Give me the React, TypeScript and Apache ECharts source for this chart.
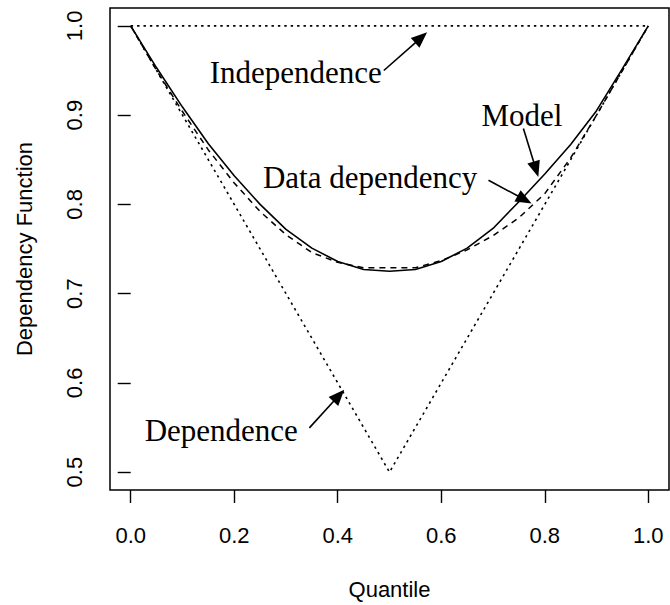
import React, { useEffect, useRef } from "react";
import * as echarts from "echarts";

// ---- data ----
const quantiles = [0, 0.05, 0.1, 0.15, 0.2, 0.25, 0.3, 0.35, 0.4, 0.45, 0.5, 0.55, 0.6, 0.65, 0.7, 0.75, 0.8, 0.85, 0.9, 0.95, 1.0];
const modelDependency = [1.0, 0.953, 0.909, 0.868, 0.832, 0.8, 0.772, 0.751, 0.736, 0.727, 0.725, 0.727, 0.736, 0.751, 0.773, 0.803, 0.834, 0.867, 0.905, 0.952, 1.0];
const dataDependency = [1.0, 0.95, 0.904, 0.861, 0.824, 0.792, 0.766, 0.746, 0.735, 0.729, 0.729, 0.729, 0.737, 0.749, 0.765, 0.785, 0.812, 0.852, 0.9, 0.95, 1.0];
const independenceX = [0, 1];
const independenceY = [1, 1];
const dependenceX = [0, 0.5, 1];
const dependenceY = [1, 0.5, 1];
const xTicks = [0, 0.2, 0.4, 0.6, 0.8, 1.0];
const yTicks = [0.5, 0.6, 0.7, 0.8, 0.9, 1.0];

// annotation texts and arrows (in data coordinates)
const annotationTexts = ["Independence", "Model", "Data dependency", "Dependence"];
const annotationAt = [[0.319, 0.948], [0.7558, 0.8997], [0.4625, 0.8304], [0.175, 0.5466]];
const arrowFrom = [[0.489, 0.95], [0.7587, 0.8849], [0.6913, 0.8271], [0.3452, 0.5496]];
const arrowTo = [[0.5727, 0.9928], [0.7875, 0.8308], [0.7746, 0.801], [0.4125, 0.5924]];

const pairs = (xs: number[], ys: number[]) => xs.map((x, i) => [x, ys[i]]);

export default function App() {
  const ref = useRef<HTMLDivElement>(null);
  useEffect(() => {
    if (!ref.current) return;
    const chart = echarts.init(ref.current, null, { renderer: "svg" });
    const sans = "Liberation Sans, Arial, Helvetica, sans-serif";
    const fmt = (v: number) => v.toFixed(1);
    chart.setOption({
      animation: false,
      backgroundColor: "#fff",
      grid: {
        left: 110, top: 8, right: 1, bottom: 115,
        show: true, borderColor: "#000", borderWidth: 1.5, backgroundColor: "transparent",
      },
      xAxis: {
        type: "value", min: -0.04, max: 1.04,
        name: "Quantile", nameLocation: "middle", nameGap: 88,
        nameTextStyle: { fontFamily: sans, fontSize: 22, color: "#000" },
        axisLine: { show: false },
        axisTick: { show: true, length: 13, customValues: xTicks, lineStyle: { color: "#000", width: 1.4 } },
        axisLabel: { customValues: xTicks, formatter: fmt, margin: 34, fontFamily: sans, fontSize: 22, color: "#000" },
        splitLine: { show: false },
      },
      yAxis: {
        type: "value", min: 0.48, max: 1.02,
        name: "Dependency Function", nameLocation: "middle", nameGap: 75,
        nameTextStyle: { fontFamily: sans, fontSize: 22, color: "#000" },
        axisLine: { show: false },
        axisTick: { show: true, length: 13, customValues: yTicks, lineStyle: { color: "#000", width: 1.4 } },
        axisLabel: { customValues: yTicks, formatter: fmt, rotate: 90, margin: 25, fontFamily: sans, fontSize: 22, color: "#000" },
        splitLine: { show: false },
      },
      series: [
        {
          name: "Independence", type: "line", data: pairs(independenceX, independenceY),
          symbol: "none", lineStyle: { color: "#000", width: 1.6, type: [2.4, 4] }, silent: true,
        },
        {
          name: "Dependence", type: "line", data: pairs(dependenceX, dependenceY),
          symbol: "none", lineStyle: { color: "#000", width: 1.6, type: [2.4, 4] }, silent: true,
        },
        {
          name: "Data dependency", type: "line", data: pairs(quantiles, dataDependency),
          symbol: "none", lineStyle: { color: "#000", width: 1.5, type: [6, 5] }, silent: true,
        },
        {
          name: "Model", type: "line", data: pairs(quantiles, modelDependency),
          symbol: "none", lineStyle: { color: "#000", width: 1.6 }, silent: true,
        },
      ],
    });

    const toPx = (p: number[]) => chart.convertToPixel({ gridIndex: 0 }, p) as number[];
    const graphics: any[] = [];
    annotationTexts.forEach((txt, i) => {
      const c = toPx(annotationAt[i]);
      graphics.push({
        type: "text", x: c[0], y: c[1], silent: true,
        style: {
          text: txt, fontFamily: "Liberation Serif, Times New Roman, serif", fontSize: 31,
          fill: "#000", textAlign: "center", textVerticalAlign: "middle",
        },
      });
      const s = toPx(arrowFrom[i]);
      const t = toPx(arrowTo[i]);
      const dx = t[0] - s[0], dy = t[1] - s[1];
      const L = Math.hypot(dx, dy);
      const ux = dx / L, uy = dy / L;
      const headLen = 16, halfW = 6.5;
      const bx = t[0] - ux * headLen, by = t[1] - uy * headLen;
      graphics.push({
        type: "line", silent: true,
        shape: { x1: s[0], y1: s[1], x2: bx + ux * 2, y2: by + uy * 2 },
        style: { stroke: "#000", lineWidth: 1.6 },
      });
      graphics.push({
        type: "polygon", silent: true,
        shape: { points: [[t[0], t[1]], [bx - uy * halfW, by + ux * halfW], [bx + uy * halfW, by - ux * halfW]] },
        style: { fill: "#000" },
      });
    });
    chart.setOption({ graphic: graphics });
    return () => chart.dispose();
  }, []);
  return <div ref={ref} style={{ position: "fixed", left: 0, top: 0, width: 670, height: 605 }} />;
}
